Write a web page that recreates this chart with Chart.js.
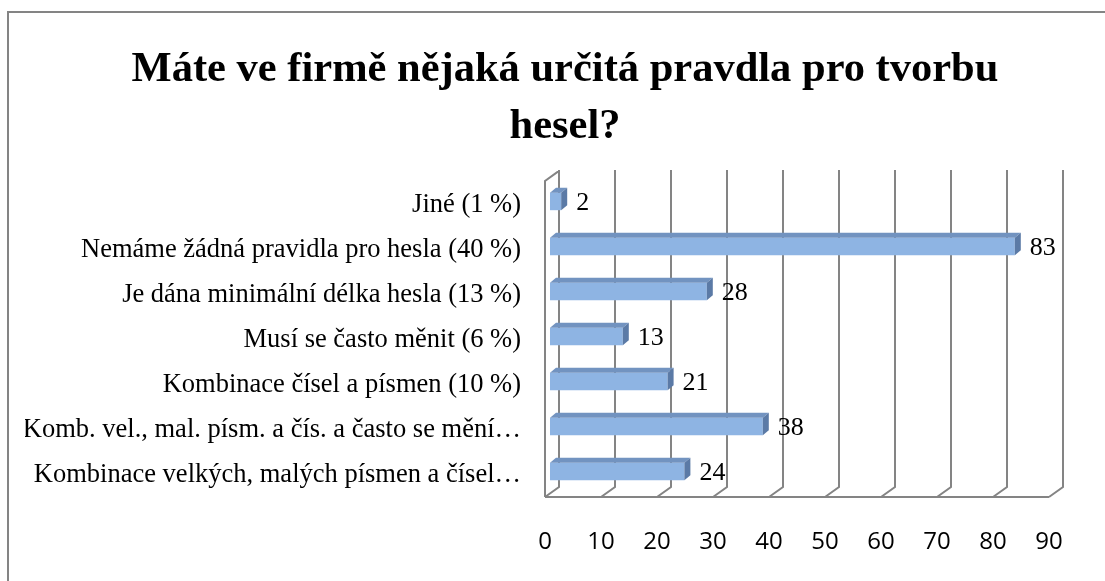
<!DOCTYPE html>
<html>
<head>
<meta charset="utf-8">
<script src="https://cdn.jsdelivr.net/npm/chart.js@4.4.0/dist/chart.umd.min.js"></script>
<style>
body { margin: 0; background: #fff; }
</style>
</head>
<body>
<canvas id="graf" width="1105" height="581"></canvas>
<script>
var nadpis = ['Máte ve firmě nějaká určitá pravdla pro tvorbu', 'hesel?'];
var nazvy = [
	'Jiné (1 %)',
	'Nemáme žádná pravidla pro hesla (40 %)',
	'Je dána minimální délka hesla (13 %)',
	'Musí se často měnit (6 %)',
	'Kombinace čísel a písmen (10 %)',
	'Komb. vel., mal. písm. a čís. a často se mění…',
	'Kombinace velkých, malých písmen a čísel…'
];
var hodnoty = [2, 83, 28, 13, 21, 38, 24];
var osaX = [0, 10, 20, 30, 40, 50, 60, 70, 80, 90];

var seda = '#848484';
var hloubka = 14;   // posun zadni steny
var sloupecDx = 5;  // posun sloupcu od predni hrany

// ramecek kolem celeho grafu
var ramecek = {
	id: 'ramecek',
	beforeDraw: function(chart) {
		var ctx = chart.ctx;
		ctx.save();
		ctx.strokeStyle = seda;
		ctx.lineWidth = 2;
		ctx.strokeRect(8, 12, 1200, 700);
		ctx.restore();
	}
};

// zadni stena, podlaha a 3D sloupce
var steny = {
	id: 'steny',
	beforeDatasetsDraw: function(chart) {
		var ctx = chart.ctx;
		var sx = chart.scales.x;
		var a = chart.chartArea;
		var podlaha = a.bottom + 3;
		var zadni = podlaha - 10;
		var vrch = a.top - 9;
		ctx.save();
		ctx.strokeStyle = seda;
		ctx.lineWidth = 2;
		ctx.beginPath();
		osaX.forEach(function(v) {
			var xf = sx.getPixelForValue(v);
			var xb = xf + hloubka;
			ctx.moveTo(xb, vrch);
			ctx.lineTo(xb, zadni);
			ctx.lineTo(xf, podlaha);
		});
		var x0 = sx.getPixelForValue(osaX[0]);
		var x9 = sx.getPixelForValue(osaX[osaX.length - 1]);
		ctx.moveTo(x0, podlaha);
		ctx.lineTo(x9, podlaha);
		ctx.moveTo(x0, podlaha);
		ctx.lineTo(x0, a.top + 2);
		ctx.lineTo(x0 + hloubka, vrch + 1);
		ctx.stroke();
		ctx.restore();

		ctx.save();
		ctx.translate(sloupecDx, 0);
	},
	afterDatasetsDraw: function(chart) {
		var ctx = chart.ctx;
		var meta = chart.getDatasetMeta(0);
		var dx = 6, dy = 5;
		meta.data.forEach(function(bar) {
			var top = bar.y - bar.height / 2;
			var bot = bar.y + bar.height / 2;
			// horni plocha
			ctx.fillStyle = '#7293C0';
			ctx.beginPath();
			ctx.moveTo(bar.base, top);
			ctx.lineTo(bar.base + dx, top - dy);
			ctx.lineTo(bar.x + dx, top - dy);
			ctx.lineTo(bar.x, top);
			ctx.closePath();
			ctx.fill();
			// bocni plocha
			ctx.fillStyle = '#5B7AA6';
			ctx.beginPath();
			ctx.moveTo(bar.x, top);
			ctx.lineTo(bar.x + dx, top - dy);
			ctx.lineTo(bar.x + dx, bot - dy);
			ctx.lineTo(bar.x, bot);
			ctx.closePath();
			ctx.fill();
		});
		ctx.restore();

		// popisky hodnot
		ctx.save();
		ctx.font = '26px "Liberation Serif"';
		ctx.fillStyle = '#000';
		ctx.textAlign = 'left';
		ctx.textBaseline = 'middle';
		meta.data.forEach(function(bar, i) {
			ctx.fillText(String(hodnoty[i]), bar.x + sloupecDx + 15, bar.y + 1.5);
		});
		ctx.restore();
	}
};

var ctx = document.getElementById('graf').getContext('2d');
var myChart = new Chart(ctx, {
	type: 'bar',
	data: {
		labels: nazvy,
		datasets: [{
			data: hodnoty,
			backgroundColor: '#8EB4E3',
			borderWidth: 0,
			categoryPercentage: 1,
			barPercentage: 0.39
		}]
	},
	options: {
		indexAxis: 'y',
		responsive: false,
		animation: false,
		layout: { padding: { left: 25, right: 0, top: 0, bottom: 0 } },
		plugins: {
			legend: { display: false },
			tooltip: { enabled: false },
			title: {
				display: true,
				text: nadpis,
				color: '#000',
				font: { family: '"Liberation Serif"', size: 42.5, weight: 'bold', lineHeight: 1.34 },
				padding: { top: 42, bottom: 23 }
			}
		},
		scales: {
			x: {
				min: 0,
				max: 90,
				grid: { display: false, drawTicks: false },
				border: { display: false },
				afterBuildTicks: function(s) { s.ticks = osaX.map(function(v) { return { value: v }; }); },
				afterFit: function(s) { s.height = 87; },
				ticks: {
					color: '#000',
					padding: 34,
					font: { family: '"Open Sans"', size: 24 }
				}
			},
			y: {
				grid: { display: false, drawTicks: false },
				border: { display: false },
				afterFit: function(s) { s.width = 520; },
				ticks: {
					color: '#000',
					padding: 24,
					labelOffset: 4,
					autoSkip: false,
					font: { family: '"Liberation Serif"', size: 26.5 }
				}
			},
			okraj: {
				type: 'category',
				position: 'right',
				grid: { display: false, drawTicks: false },
				border: { display: false },
				ticks: { display: false },
				afterFit: function(s) { s.width = 56; }
			}
		}
	},
	plugins: [ramecek, steny]
});
</script>
</body>
</html>
